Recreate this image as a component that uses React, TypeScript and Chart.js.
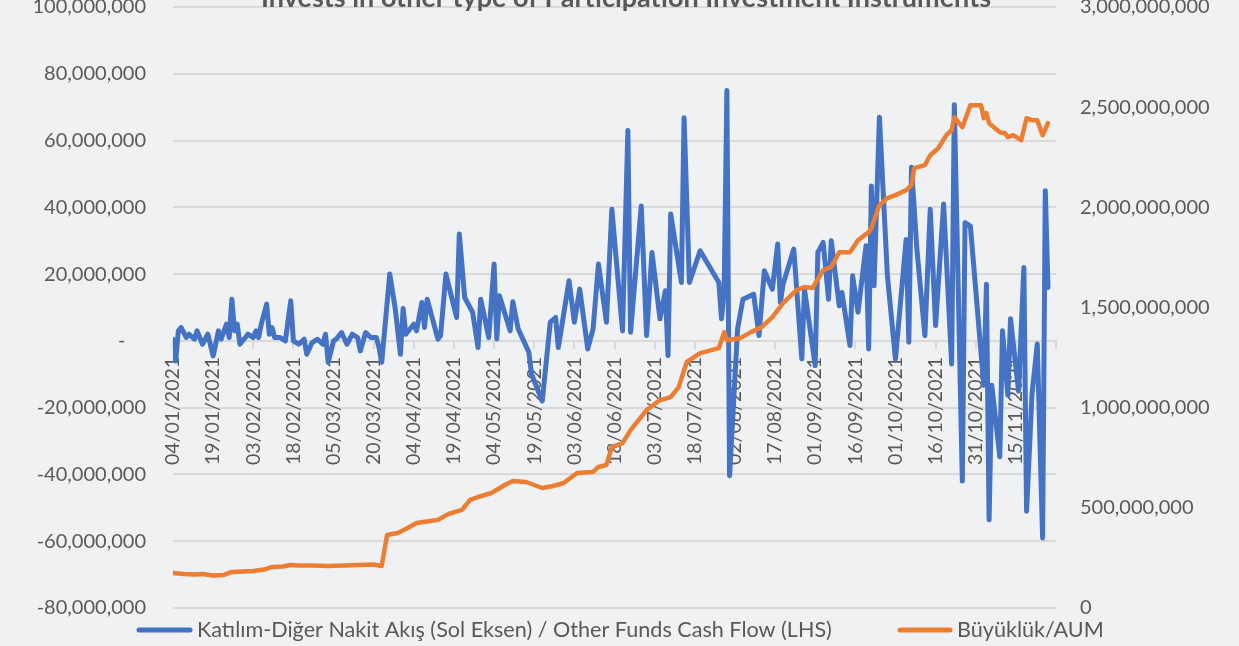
import React, { useEffect, useRef } from "react";
import { Chart, registerables } from "chart.js";

Chart.register(...registerables);

const TITLE = "Invests in other type of Participation Investment Instruments";
const FLOW_LABEL = "Katılım-Diğer Nakit Akış (Sol Eksen) / Other Funds Cash Flow (LHS)";
const AUM_LABEL = "Büyüklük/AUM";
const YEAR = 2021;
const START_MONTH = 1; // axis starts 04/01/2021
const START_DAY = 4;
const AXIS_DAYS = 330; // to 30/11/2021
const TICK_DAYS = 15;

const LEFT_MIN = -80000000;
const LEFT_MAX = 100000000;
const LEFT_STEP = 20000000;
const RIGHT_MIN = 0;
const RIGHT_MAX = 3000000000;
const RIGHT_STEP = 500000000;

// Other funds cash flow (million TRY)
const flowDates = [
  "01-04", "01-05", "01-06", "01-07", "01-09", "01-10", "01-12", "01-13", "01-15", "01-17",
  "01-19", "01-21", "01-22", "01-24", "01-25", "01-26", "01-27", "01-28", "01-29", "02-01",
  "02-03", "02-04", "02-05", "02-06", "02-08", "02-09", "02-10", "02-11", "02-13", "02-15",
  "02-17", "02-18", "02-20", "02-22", "02-23", "02-25", "02-27", "03-01", "03-02", "03-03",
  "03-05", "03-06", "03-08", "03-10", "03-12", "03-14", "03-15", "03-17", "03-19", "03-21",
  "03-22", "03-23", "03-26", "03-28", "03-30", "03-31", "04-01", "04-03", "04-04", "04-05",
  "04-07", "04-08", "04-09", "04-13", "04-14", "04-16", "04-18", "04-20", "04-21", "04-23",
  "04-26", "04-28", "04-29", "05-02", "05-04", "05-05", "05-06", "05-10", "05-11", "05-13",
  "05-17", "05-18", "05-22", "05-25", "05-27", "05-28", "06-01", "06-03", "06-05", "06-08",
  "06-10", "06-12", "06-15", "06-17", "06-21", "06-23", "06-24", "06-28", "06-30", "07-02",
  "07-05", "07-07", "07-08", "07-09", "07-13", "07-14", "07-16", "07-20", "07-27", "07-28",
  "07-29", "07-30", "07-31", "08-03", "08-05", "08-09", "08-11", "08-13", "08-16", "08-18",
  "08-19", "08-20", "08-24", "08-27", "08-28", "09-01", "09-02", "09-04", "09-06", "09-07",
  "09-10", "09-11", "09-14", "09-15", "09-17", "09-20", "09-21", "09-22", "09-23", "09-25",
  "09-28", "10-01", "10-05", "10-06", "10-07", "10-09", "10-12", "10-14", "10-16", "10-19",
  "10-22", "10-23", "10-26", "10-27", "10-29", "11-03", "11-04", "11-05", "11-06", "11-09",
  "11-10", "11-12", "11-13", "11-16", "11-18", "11-19", "11-21", "11-23", "11-25", "11-26",
  "11-27",
];
const flowValues = [
  0.5, -6, 3, 4, 1, 2, 0.5, 3, -1, 2,
  -4.5, 3, 0.5, 5, 1, 12.5, 3, 5, -1, 2,
  1, 3, 1, 5, 11, 2, 4, 1, 1, 0,
  12, 0, -1, 0.5, -4, -0.5, 0.5, -1, 2, -6.4,
  0, 0.5, 2.5, -1, 2, 1, -3, 2.5, 1, 1,
  -2, -6.4, 20, 10, -4, 9.7, 2, 4, 5, 3,
  11.5, 4, 12.5, 0.5, 1.6, 20, 13.5, 7, 32, 13,
  8.5, -2, 12.5, 1, 23, 0.6, 13.5, 3, 11.7, 3.6,
  -3.4, -10, -18, 5.6, 7, -2, 18, 5.6, 15.5, -2.4,
  3.6, 23, 5.6, 39.4, 3, 63, 2.6, 40.4, 1.6, 26.5,
  6.6, 15, -4.4, 38, 17.5, 66.8, 17.5, 27, 17.5, 6.6,
  15.5, 75, -40.4, 3.6, 12.5, 14, 1.6, 21, 15.5, 29,
  11.5, 17, 27.5, -5.4, 15.5, -7.4, 26.5, 29.5, 12.5, 30,
  10.5, 14.5, -1.4, 19.5, 8.6, 28.5, -2.4, 46.4, 16.5, 67,
  19.5, -5.4, 30.4, -0.4, 52, 27.5, 1.6, 39.4, 4.6, 41,
  -6.9, 70.7, -42, 35.4, 34.4, -13.3, 17, -53.6, -13.3, -34.7,
  3, -16.3, 6.6, -15, 22, -51, -16.3, -0.9, -59, 45,
  16,
];

// Fund size / AUM (billion TRY)
const aumDates = [
  "01-04", "01-08", "01-12", "01-15", "01-19", "01-23", "01-26", "01-30", "02-03", "02-07",
  "02-10", "02-14", "02-17", "02-20", "02-25", "03-03", "03-09", "03-14", "03-20", "03-23",
  "03-25", "03-29", "04-01", "04-05", "04-10", "04-13", "04-17", "04-22", "04-25", "04-28",
  "05-03", "05-08", "05-11", "05-16", "05-22", "05-26", "05-30", "06-04", "06-10", "06-12",
  "06-15", "06-17", "06-21", "06-24", "06-30", "07-05", "07-09", "07-12", "07-15", "07-20",
  "07-27", "07-29", "07-30", "08-04", "08-08", "08-12", "08-16", "08-20", "08-25", "08-28",
  "08-31", "09-04", "09-07", "09-10", "09-14", "09-17", "09-21", "09-22", "09-25", "09-28",
  "10-01", "10-05", "10-07", "10-08", "10-12", "10-14", "10-17", "10-20", "10-22", "10-23",
  "10-26", "10-29", "11-02", "11-03", "11-04", "11-05", "11-09", "11-11", "11-12", "11-14",
  "11-17", "11-19", "11-21", "11-23", "11-25", "11-27",
];
const aumValues = [
  0.175, 0.17, 0.167, 0.17, 0.162, 0.165, 0.18, 0.182, 0.185, 0.192,
  0.205, 0.207, 0.215, 0.212, 0.212, 0.21, 0.212, 0.215, 0.217, 0.21,
  0.364, 0.374, 0.394, 0.424, 0.434, 0.44, 0.47, 0.49, 0.54, 0.554,
  0.574, 0.614, 0.634, 0.629, 0.599, 0.609, 0.624, 0.674, 0.679, 0.704,
  0.714, 0.803, 0.823, 0.888, 0.988, 1.038, 1.053, 1.103, 1.228, 1.272,
  1.297, 1.377, 1.337, 1.347, 1.377, 1.402, 1.452, 1.522, 1.587, 1.602,
  1.597, 1.687, 1.702, 1.776, 1.776, 1.836, 1.876, 1.896, 2.011, 2.046,
  2.061, 2.086, 2.111, 2.196, 2.211, 2.26, 2.295, 2.36, 2.385, 2.45,
  2.4, 2.51, 2.51, 2.445, 2.47, 2.42, 2.375, 2.37, 2.35, 2.36,
  2.335, 2.445, 2.435, 2.435, 2.36, 2.42,
];

const DAY_MS = 86400000;
const START_MS = Date.UTC(YEAR, START_MONTH - 1, START_DAY);
const dayOf = (md: string) => {
  const [m, d] = md.split("-").map(Number);
  return Math.round((Date.UTC(YEAR, m - 1, d) - START_MS) / DAY_MS);
};
const pad = (n: number) => (n < 10 ? "0" + n : "" + n);
const fmtDay = (v: number) => {
  const dt = new Date(START_MS + v * DAY_MS);
  return `${pad(dt.getUTCDate())}/${pad(dt.getUTCMonth() + 1)}/${dt.getUTCFullYear()}`;
};
const fmtNum = (v: number) => Math.round(v).toLocaleString("en-US");

const BLUE = "#4472C4";
const ORANGE = "#ED7D31";
const TEXT = "#595959";
const GRID = "#d9d9d9";
const FONT = "Lato, 'Open Sans', sans-serif";

const bgPlugin = {
  id: "bg",
  beforeDraw(chart: any) {
    const { ctx, width, height } = chart;
    ctx.save();
    ctx.fillStyle = "#f0f1f3";
    ctx.fillRect(0, 0, width, height);
    ctx.restore();
  },
};

const titlePlugin = {
  id: "titleCut",
  afterDraw(chart: any) {
    const { ctx } = chart;
    ctx.save();
    ctx.font = `bold 27px ${FONT}`;
    ctx.fillStyle = TEXT;
    ctx.textAlign = "center";
    ctx.textBaseline = "alphabetic";
    ctx.fillText(TITLE, 626, 7);
    ctx.restore();
  },
};

const legendPlugin = {
  id: "legendCustom",
  afterDraw(chart: any) {
    const { ctx } = chart;
    const ds = chart.data.datasets;
    const flow = ds.find((d: any) => d.yAxisID === "y");
    const aum = ds.find((d: any) => d.yAxisID === "y1");
    const y = 630;
    ctx.save();
    ctx.font = `21.6px ${FONT}`;
    ctx.textBaseline = "middle";
    ctx.textAlign = "left";
    ctx.lineCap = "round";
    ctx.lineWidth = 5;
    const items = [
      { d: flow, x0: 139, x1: 190, tx: 197 },
      { d: aum, x0: 900, x1: 950, tx: 957 },
    ];
    for (const it of items) {
      ctx.strokeStyle = it.d.borderColor;
      ctx.beginPath();
      ctx.moveTo(it.x0, y);
      ctx.lineTo(it.x1, y);
      ctx.stroke();
      ctx.fillStyle = TEXT;
      ctx.fillText(it.d.label, it.tx, y);
    }
    ctx.restore();
  },
};

const noVertPadding = (width: number) => (s: any) => {
  s.width = width;
  s.paddingTop = 0;
  s.paddingBottom = 0;
};

export default function App() {
  const ref = useRef<HTMLCanvasElement | null>(null);

  useEffect(() => {
    document.body.style.margin = "0";
    const canvas = ref.current;
    if (!canvas) return;

    const flowData = flowDates.map((d, i) => ({ x: dayOf(d), y: flowValues[i] * 1e6 }));
    const aumData = aumDates.map((d, i) => ({ x: dayOf(d), y: aumValues[i] * 1e9 }));

    const chart = new Chart(canvas, {
      type: "line",
      data: {
        datasets: [
          {
            label: FLOW_LABEL,
            data: flowData,
            yAxisID: "y",
            xAxisID: "x",
            borderColor: BLUE,
            backgroundColor: BLUE,
            borderWidth: 5,
            pointRadius: 0,
            tension: 0,
            borderJoinStyle: "round",
            borderCapStyle: "round",
            order: 1,
          },
          {
            label: AUM_LABEL,
            data: aumData,
            yAxisID: "y1",
            xAxisID: "x",
            borderColor: ORANGE,
            backgroundColor: ORANGE,
            borderWidth: 4.5,
            pointRadius: 0,
            tension: 0,
            borderJoinStyle: "round",
            borderCapStyle: "round",
            order: 0,
          },
        ],
      },
      options: {
        responsive: false,
        animation: false,
        events: [],
        layout: { padding: { top: 7, bottom: 38, left: 0, right: 0 } },
        plugins: {
          legend: { display: false },
          title: { display: false },
          tooltip: { enabled: false },
        },
        scales: {
          x: {
            type: "linear",
            min: 0,
            max: AXIS_DAYS,
            position: { y: 0 },
            afterFit: (s: any) => {
              s.height = 0;
            },
            ticks: {
              stepSize: TICK_DAYS,
              maxTicksLimit: 100,
              autoSkip: false,
              minRotation: 90,
              maxRotation: 90,
              padding: 9,
              color: TEXT,
              font: { family: FONT, size: 19.5 },
              callback: (v: any) => (Number(v) >= AXIS_DAYS ? "" : fmtDay(Number(v))),
            },
            grid: {
              drawOnChartArea: false,
              drawTicks: true,
              tickLength: 7,
              color: GRID,
              lineWidth: 2,
            },
            border: { display: true, color: GRID, width: 2 },
          },
          y: {
            position: "left",
            min: LEFT_MIN,
            max: LEFT_MAX,
            afterFit: noVertPadding(173),
            ticks: {
              stepSize: LEFT_STEP,
              padding: 27,
              color: TEXT,
              font: { family: FONT, size: 20 },
              callback: (v: any) => (Number(v) === 0 ? "-    " : fmtNum(Number(v))),
            },
            grid: { color: GRID, lineWidth: 2, drawTicks: false },
            border: { display: false },
          },
          y1: {
            position: "right",
            min: RIGHT_MIN,
            max: RIGHT_MAX,
            afterFit: noVertPadding(183),
            ticks: {
              stepSize: RIGHT_STEP,
              padding: 24,
              color: TEXT,
              font: { family: FONT, size: 20 },
              callback: (v: any) => fmtNum(Number(v)),
            },
            grid: { display: false, drawTicks: false },
            border: { display: false },
          },
        },
      } as any,
      plugins: [bgPlugin, titlePlugin, legendPlugin],
    });

    return () => {
      chart.destroy();
    };
  }, []);

  return (
    <div style={{ position: "fixed", left: 0, top: 0, width: 1239, height: 646 }}>
      <canvas ref={ref} width={1239} height={646} style={{ width: 1239, height: 646, display: "block" }} />
    </div>
  );
}
